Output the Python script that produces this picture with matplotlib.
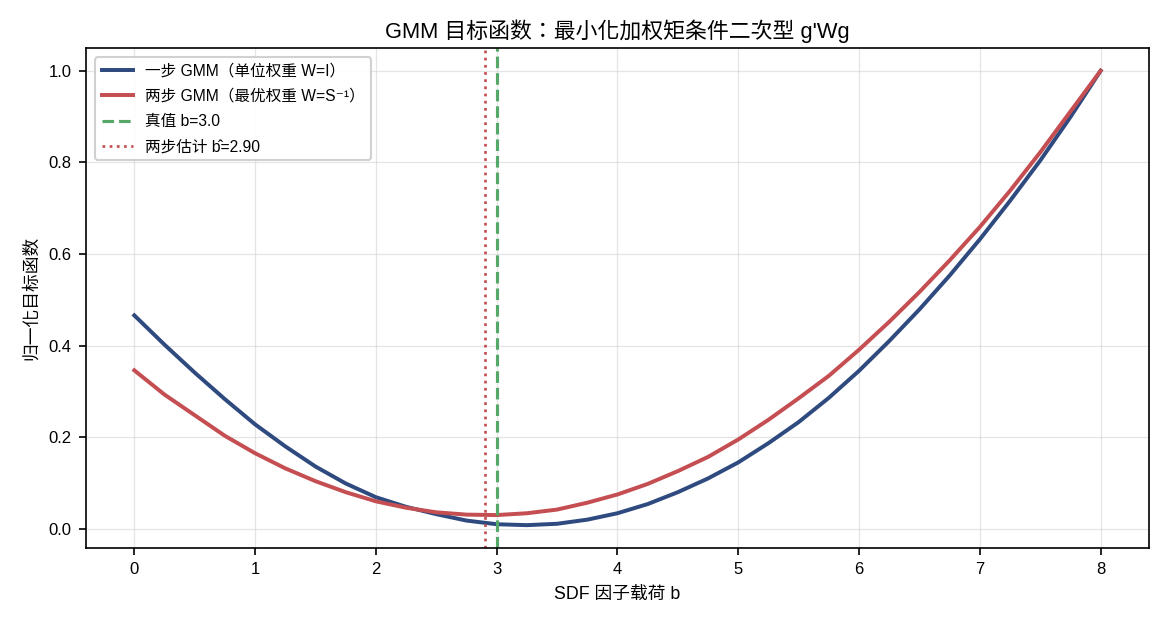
import matplotlib
matplotlib.use("Agg")
import matplotlib.pyplot as plt

plt.rcParams["font.family"] = ["Liberation Sans", "Noto Sans CJK TC", "DejaVu Sans"]
plt.rcParams["axes.unicode_minus"] = False

# ── data ────────────────────────────────────────────────────
b_grid = [0.00, 0.25, 0.50, 0.75, 1.00, 1.25, 1.50, 1.75, 2.00, 2.25, 2.50,
          2.75, 3.00, 3.25, 3.50, 3.75, 4.00, 4.25, 4.50, 4.75, 5.00, 5.25,
          5.50, 5.75, 6.00, 6.25, 6.50, 6.75, 7.00, 7.25, 7.50, 7.75, 8.00]
obj_one_step = [0.466, 0.402, 0.341, 0.283, 0.228, 0.180, 0.136, 0.099, 0.069,
                0.048, 0.032, 0.018, 0.010, 0.008, 0.011, 0.020, 0.034, 0.054,
                0.080, 0.110, 0.145, 0.187, 0.233, 0.286, 0.345, 0.410, 0.479,
                0.553, 0.632, 0.716, 0.804, 0.899, 1.000]
obj_two_step = [0.346, 0.293, 0.248, 0.203, 0.165, 0.132, 0.104, 0.080, 0.060,
                0.046, 0.036, 0.031, 0.030, 0.034, 0.042, 0.057, 0.075, 0.098,
                0.126, 0.157, 0.195, 0.238, 0.285, 0.334, 0.391, 0.452, 0.517,
                0.586, 0.659, 0.738, 0.822, 0.911, 1.000]
b_true = 3.0
b_hat = 2.90

BLUE = "#2E4A7E"
RED = "#C44E52"
GREEN = "#55A868"

fig = plt.figure(figsize=(7.8, 4.16), dpi=150)
ax = fig.add_axes([0.0735, 0.122, 0.9085, 0.801])

ax.plot(b_grid, obj_one_step, color=BLUE, linewidth=1.9, label="一步 GMM（单位权重 W=I）")
ax.plot(b_grid, obj_two_step, color=RED, linewidth=1.9, label="两步 GMM（最优权重 W=S⁻¹）")
ax.axvline(b_true, color=GREEN, linewidth=1.5, linestyle="--", label=f"真值 b={b_true:.1f}")
ax.axvline(b_hat, color=RED, linewidth=1.3, linestyle=":", label=f"两步估计 b̂={b_hat:.2f}")

ax.set_title("GMM 目标函数：最小化加权矩条件二次型 g'Wg", fontsize=10.5, pad=5)
ax.set_xlabel("SDF 因子载荷 b", fontsize=8.5)
ax.set_ylabel("归一化目标函数", fontsize=8.5)
ax.tick_params(labelsize=8)
ax.grid(True, color="#cccccc", alpha=0.5, linewidth=0.6)
ax.legend(loc="upper left", fontsize=7.5, framealpha=0.9, labelspacing=0.65,
          borderaxespad=0.6)

fig.savefig("out.png", dpi=150)
